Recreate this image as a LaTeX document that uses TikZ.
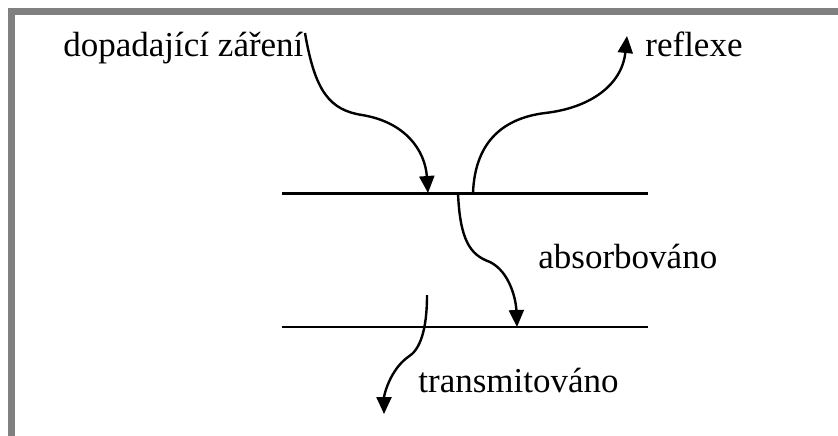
\documentclass[tikz,border=0pt]{standalone}
\usepackage{fontspec}
\setmainfont{Liberation Serif}
\usetikzlibrary{arrows.meta}
\begin{document}
\begin{tikzpicture}[x=0.5pt,y=-0.5pt,
  lbl/.style={anchor=base west,inner sep=0pt,font=\fontsize{17.5pt}{20pt}\selectfont},
  surf/.style={line width=1.2pt},
  ray/.style={line width=1.2pt,-{Triangle[length=8.5pt,width=7.5pt]}}]
\useasboundingbox (0,0) rectangle (838,435);
\clip (0,0) rectangle (838,435);
\draw[line width=3.5pt,color={rgb,255:red,128;green,128;blue,128}] (11.5,11) rectangle (860,460);
% surfaces
\coordinate (t1) at (282,193.5); \coordinate (t2) at (648,193.5);
\coordinate (b1) at (282,327); \coordinate (b2) at (648,327);
\draw[surf] (t1) -- (t2);
\draw[surf] (b1) -- (b2);
% labels
\node[lbl] (inc) at (63,56) {dopadající záření};
\node[lbl] (refl) at (645,56) {reflexe};
\node[lbl] (abs) at (538,268) {absorbováno};
\node[lbl] (tra) at (418,392) {transmitováno};
% ray endpoints
\coordinate (i0) at (305,33); \coordinate (i1) at (428,193);
\coordinate (r0) at (473,193); \coordinate (r1) at (627,36);
\coordinate (a0) at (458,193); \coordinate (a1) at (517,327);
\coordinate (s0) at (427,295); \coordinate (s1) at (384,414);
\draw[ray] (i0) .. controls (315,92) and (330,110) .. (362,115) .. controls (405,122) and (425,150) .. (i1);
\draw[ray] (r0) .. controls (475,140) and (505,118) .. (545,113) .. controls (590,108) and (622,85) .. (r1);
\draw[ray] (a0) .. controls (460,240) and (470,255) .. (490,262) .. controls (510,272) and (516,300) .. (a1);
\draw[ray] (s0) .. controls (427,330) and (420,350) .. (408,357) .. controls (390,370) and (384,395) .. (s1);
\end{tikzpicture}
\end{document}
